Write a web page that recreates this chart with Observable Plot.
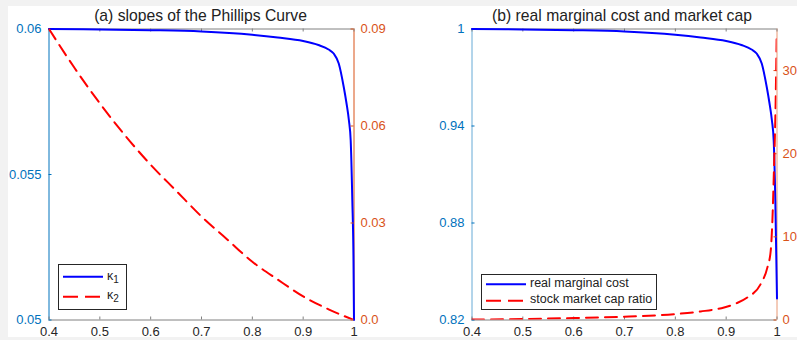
<!DOCTYPE html>
<html><head><meta charset="utf-8">
<script src="https://cdn.jsdelivr.net/npm/d3@7"></script>
<script src="https://cdn.jsdelivr.net/npm/@observablehq/plot@0.6"></script>
<style>
html,body{margin:0;padding:0;}
body{width:797px;height:340px;background:#f2f2f2;position:relative;overflow:hidden;font-family:"Liberation Sans",Arial,Helvetica,sans-serif;}
#fig{position:absolute;left:8px;top:6px;width:789px;height:331px;background:#fff;}
.layer{position:absolute;top:0;}
.title{position:absolute;font-size:15.7px;line-height:15px;color:#222;white-space:nowrap;transform:translateX(-50%);}
.legend{position:absolute;box-sizing:border-box;border:1px solid #262626;background:#fff;}
.ltext{position:absolute;font-size:12.5px;line-height:13px;color:#222;white-space:nowrap;}
.ltext sub{font-size:10px;vertical-align:-3px;line-height:0;}
svg.samples{position:absolute;left:0;top:0;overflow:visible;}
</style>
</head><body>
<div id="fig"></div>
<script>
// ---------- data ----------
const xTicks = [0.4, 0.5, 0.6, 0.7, 0.8, 0.9, 1];
const xTickLabels = ["0.4", "0.5", "0.6", "0.7", "0.8", "0.9", "1"];

// panel (a)
const thetaK1 = [0.4, 0.5, 0.6, 0.7, 0.8, 0.85, 0.9, 0.93, 0.95, 0.96, 0.97, 0.98, 0.985, 0.99, 0.9935, 0.9967, 0.999, 1.0];
const kappa1  = [0.06, 0.059983, 0.059959, 0.059914, 0.059801, 0.059708, 0.059588, 0.05945, 0.059296, 0.059158, 0.058814, 0.05799, 0.057474, 0.056856, 0.056168, 0.054107, 0.052045, 0.05];
const thetaK2 = [0.4, 0.45, 0.5, 0.55, 0.6, 0.65, 0.7, 0.75, 0.8, 0.85, 0.9, 0.95, 1.0];
const kappa2  = [0.09, 0.078, 0.067, 0.057, 0.048, 0.040, 0.032, 0.025, 0.018, 0.0125, 0.0073, 0.0033, 0.0];
const aLeftTicks = [0.05, 0.055, 0.06];
const aLeftLabels = ["0.05", "0.055", "0.06"];
const aRightTicks = [0, 0.03, 0.06, 0.09];
const aRightLabels = ["0.0", "0.03", "0.06", "0.09"];

// panel (b)
const thetaMC = [0.4, 0.5, 0.6, 0.7, 0.8, 0.85, 0.9, 0.93, 0.95, 0.96, 0.97, 0.98, 0.985, 0.99, 0.9935, 0.9967, 1.0];
const realMC  = [1.0, 0.99969, 0.99926, 0.99845, 0.99641, 0.99474, 0.99258, 0.9901, 0.98732, 0.98485, 0.97866, 0.96381, 0.95454, 0.9434, 0.93103, 0.89392, 0.8333];
const thetaCap = [0.4, 0.5, 0.6, 0.7, 0.8, 0.85, 0.896, 0.92, 0.942, 0.968, 0.981, 0.9876, 0.9909, 0.9941, 0.9974, 0.9994];
const capRatio = [0.05, 0.12, 0.24, 0.40, 0.72, 1.03, 1.51, 2.0, 2.72, 4.33, 6.3, 8.3, 11.9, 18.3, 26.4, 34.4];
const bLeftTicks = [0.82, 0.88, 0.94, 1];
const bLeftLabels = ["0.82", "0.88", "0.94", "1"];
const bRightTicks = [0, 10, 20, 30];
const bRightLabels = ["0", "10", "20", "30"];

const titles = ["(a) slopes of the Phillips Curve", "(b) real marginal cost and market cap"];
const legendA = ["κ", "κ"];
const legendASubs = ["1", "2"];
const legendB = ["real marginal cost", "stock market cap ratio"];

// ---------- styles ----------
const BLUE_AX = "#0072BD", ORANGE_AX = "#D95319", GREY = "#808080", TXT = "#262626";
const FONT = "'Liberation Sans', Arial, Helvetica, sans-serif";
const H = 340, MT = 28.5, MB = 20.5, INNER_H = 291, INNER_W = 305;
const fmt = (ticks, labels) => d => labels[ticks.findIndex(t => Math.abs(t - d) < 1e-9)];

function baseLayer({w, ml, mr, yDom, yTicks, yLabels, xs, ys, axisOpacity}) {
  return Plot.plot({
    width: w, height: H, marginLeft: ml, marginRight: mr, marginTop: MT, marginBottom: MB,
    x: {domain: [0.4, 1], axis: null},
    y: {domain: yDom, axis: null},
    style: {background: "transparent", overflow: "visible", fontFamily: FONT},
    marks: [
      Plot.ruleY([yDom[0], yDom[1]], {stroke: GREY, strokeWidth: 1}),
      Plot.ruleX([0.4], {stroke: BLUE_AX, strokeOpacity: axisOpacity}),
      Plot.ruleX([1], {stroke: ORANGE_AX, strokeOpacity: axisOpacity}),
      Plot.ruleX(xTicks, {x: d => d, stroke: GREY, insetTop: INNER_H - 3}),
      Plot.ruleX(xTicks, {x: d => d, stroke: GREY, insetBottom: INNER_H - 3}),
      Plot.ruleY(yTicks, {y: d => d, stroke: BLUE_AX, insetRight: INNER_W - 3}),
      Plot.axisX(xTicks, {tickSize: 0, tickPadding: 7, fontSize: 13, color: TXT, tickFormat: fmt(xTicks, xTickLabels)}),
      Plot.axisY(yTicks, {anchor: "left", tickSize: 0, tickPadding: 7.5, fontSize: 13, color: BLUE_AX, tickFormat: fmt(yTicks, yLabels)}),
      Plot.line(ys, {x: xs, y: ys, stroke: "#0000ff", strokeWidth: 2, curve: "monotone-x"})
    ]
  });
}
function rightLayer({w, ml, mr, yDom, yTicks, yLabels, xs, ys, pad}) {
  return Plot.plot({
    width: w, height: H, marginLeft: ml, marginRight: mr, marginTop: MT, marginBottom: MB,
    x: {domain: [0.4, 1], axis: null},
    y: {domain: yDom, axis: null},
    style: {background: "transparent", overflow: "visible", fontFamily: FONT},
    marks: [
      Plot.ruleY(yTicks, {y: d => d, stroke: ORANGE_AX, insetLeft: INNER_W - 3}),
      Plot.axisY(yTicks, {anchor: "right", tickSize: 0, tickPadding: pad, fontSize: 13, color: ORANGE_AX, tickFormat: fmt(yTicks, yLabels)}),
      Plot.line(ys, {x: xs, y: ys, stroke: "#ff0000", strokeWidth: 2, strokeDasharray: "12,7", curve: "monotone-x", clip: true})
    ]
  });
}
function place(el, left) {
  el.classList.add("layer");
  el.style.left = left + "px";
  document.body.appendChild(el);
}

place(baseLayer({w: 400, ml: 48.5, mr: 46.5, yDom: [0.05, 0.06], yTicks: aLeftTicks, yLabels: aLeftLabels, xs: thetaK1, ys: kappa1, axisOpacity: 1}), 0);
place(rightLayer({w: 400, ml: 48.5, mr: 46.5, yDom: [0, 0.09], yTicks: aRightTicks, yLabels: aRightLabels, xs: thetaK2, ys: kappa2, pad: 6.5}), 0);
place(baseLayer({w: 397, ml: 71.5, mr: 20.5, yDom: [0.82, 1], yTicks: bLeftTicks, yLabels: bLeftLabels, xs: thetaMC, ys: realMC, axisOpacity: 0.6}), 400);
place(rightLayer({w: 397, ml: 71.5, mr: 20.5, yDom: [0, 35], yTicks: bRightTicks, yLabels: bRightLabels, xs: thetaCap, ys: capRatio, pad: 5.5}), 400);

// titles
[[titles[0], 200.5], [titles[1], 622]].forEach(([t, cx]) => {
  const d = document.createElement("div");
  d.className = "title"; d.textContent = t;
  d.style.left = cx + "px"; d.style.top = "8px";
  document.body.appendChild(d);
});

// legends
function legend(box, rows) {
  const b = document.createElement("div");
  b.className = "legend";
  Object.assign(b.style, {left: box[0] + "px", top: box[1] + "px", width: box[2] + "px", height: box[3] + "px"});
  document.body.appendChild(b);
  const ns = "http://www.w3.org/2000/svg";
  const s = document.createElementNS(ns, "svg");
  s.setAttribute("class", "samples"); s.setAttribute("width", 797); s.setAttribute("height", 340);
  s.style.pointerEvents = "none";
  rows.forEach(r => {
    const l = document.createElementNS(ns, "line");
    l.setAttribute("x1", r.x1); l.setAttribute("x2", r.x2);
    l.setAttribute("y1", r.y); l.setAttribute("y2", r.y);
    l.setAttribute("stroke", r.color); l.setAttribute("stroke-width", 2);
    if (r.dash) l.setAttribute("stroke-dasharray", r.dash);
    s.appendChild(l);
    const t = document.createElement("div");
    t.className = "ltext";
    t.style.left = r.tx + "px"; t.style.top = r.ty + "px";
    t.textContent = r.text;
    if (r.sub) { const sb = document.createElement("sub"); sb.textContent = r.sub; t.appendChild(sb); }
    document.body.appendChild(t);
  });
  document.body.appendChild(s);
}
legend([58, 264, 69, 46], [
  {x1: 63, x2: 103, y: 276.7, color: "#0000ff", text: legendA[0], sub: legendASubs[0], tx: 107, ty: 270},
  {x1: 63, x2: 103, y: 296.7, color: "#ff0000", dash: "15,7", text: legendA[1], sub: legendASubs[1], tx: 107, ty: 288.5}
]);
legend([481, 274, 176, 36], [
  {x1: 486, x2: 526, y: 284.3, color: "#0000ff", text: legendB[0], tx: 530, ty: 277},
  {x1: 486, x2: 526, y: 300.7, color: "#ff0000", dash: "15,7", text: legendB[1], tx: 530, ty: 292.5}
]);
</script>
</body></html>
